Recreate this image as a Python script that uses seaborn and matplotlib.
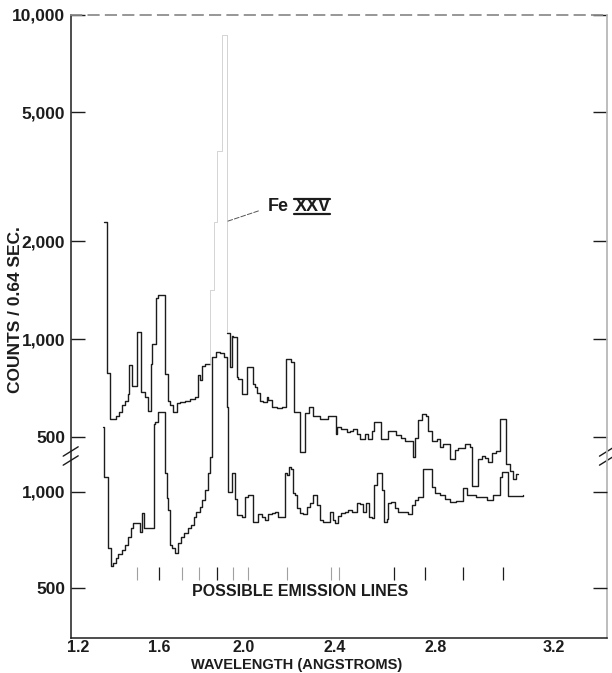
import numpy as np
import pandas as pd
import matplotlib
matplotlib.use("Agg")
import matplotlib.pyplot as plt
from matplotlib.lines import Line2D
from matplotlib.ticker import NullLocator
import seaborn as sns

# ---------------- data ----------------
upper_wl = [1.330, 1.3465, 1.359, 1.3875, 1.404, 1.4175, 1.434, 1.4505, 1.455, 1.4675,
            1.4925, 1.5125, 1.533, 1.549, 1.560, 1.568, 1.585, 1.598, 1.630, 1.643,
            1.654, 1.670, 1.686, 1.702, 1.7255, 1.749, 1.7725, 1.788, 1.796, 1.807,
            1.820, 1.844, 1.8635, 1.878, 1.901, 1.924, 1.937, 1.945, 1.952, 1.968,
            1.975, 1.991, 2.014, 2.041, 2.052, 2.059, 2.074, 2.089, 2.106, 2.1115,
            2.127, 2.149, 2.1705, 2.189, 2.195, 2.214, 2.2245, 2.251, 2.2725, 2.291,
            2.308, 2.337, 2.371, 2.386, 2.404, 2.4095, 2.428, 2.449, 2.463, 2.4765,
            2.4905, 2.504, 2.524, 2.538, 2.551, 2.561, 2.589, 2.617, 2.637, 2.650,
            2.6695, 2.682, 2.7125, 2.721, 2.734, 2.7465, 2.763, 2.771, 2.784, 2.8025,
            2.815, 2.827, 2.851, 2.869, 2.880, 2.9045, 2.922, 2.9315, 2.9505, 2.9635,
            2.975, 2.9865, 2.9995, 3.013, 3.026, 3.046, 3.059, 3.069, 3.081, 3.086]
upper_counts = [2300, 784, 567, 580, 597, 624, 646, 677, 830, 718,
                1050, 685, 662, 601, 835, 965, 1340, 1370, 780, 646,
                624, 594, 636, 640, 646, 653, 662, 777, 745, 826,
                835, 1415, 2300, 3800, 8700, 1040, 818, 1024, 1012, 762,
                753, 677, 818, 724, 712, 680, 646, 640, 662, 650,
                618, 612, 618, 867, 870, 850, 595, 449, 590, 618,
                580, 567, 577, 580, 510, 534, 526, 517, 522, 528,
                510, 492, 510, 492, 522, 556, 492, 522, 519, 505,
                495, 485, 432, 495, 562, 587, 580, 522, 485, 490,
                464, 475, 427, 455, 460, 475, 465, 352, 427, 437,
                430, 416, 444, 450, 567, 412, 391, 371, 384, 384]

lower_wl = [1.325, 1.3315, 1.3485, 1.364, 1.3755, 1.3875, 1.4005, 1.4175, 1.434, 1.4505,
            1.464, 1.4755, 1.509, 1.5175, 1.530, 1.5745, 1.583, 1.598, 1.630, 1.638,
            1.646, 1.654, 1.665, 1.678, 1.694, 1.707, 1.723, 1.739, 1.754, 1.768,
            1.780, 1.796, 1.809, 1.820, 1.833, 1.844, 1.852, 1.871, 1.891, 1.9095,
            1.923, 1.930, 1.945, 1.9605, 1.969, 1.991, 2.006, 2.022, 2.045, 2.067,
            2.082, 2.097, 2.1115, 2.127, 2.141, 2.156, 2.185, 2.193, 2.2045, 2.214,
            2.2215, 2.229, 2.239, 2.251, 2.2655, 2.283, 2.294, 2.308, 2.323, 2.337,
            2.351, 2.379, 2.3905, 2.4005, 2.414, 2.424, 2.442, 2.456, 2.4705, 2.491,
            2.504, 2.5175, 2.528, 2.5415, 2.551, 2.561, 2.572, 2.592, 2.601, 2.611,
            2.617, 2.627, 2.643, 2.656, 2.6695, 2.6955, 2.7085, 2.721, 2.734, 2.753,
            2.784, 2.796, 2.815, 2.833, 2.851, 2.875, 2.8985, 2.911, 2.9455, 2.982,
            3.0025, 3.026, 3.0315, 3.053, 3.101]
lower_counts = [1590, 1112, 667, 588, 600, 621, 640, 656, 683, 720,
                770, 798, 751, 857, 770, 1630, 1650, 1770, 1143, 955,
                880, 683, 670, 643, 691, 725, 742, 770, 788, 837,
                867, 898, 942, 1012, 1140, 1285, 2625, 2720, 2700, 2625,
                1835, 1000, 1140, 950, 846, 837, 965, 977, 807, 852,
                837, 817, 850, 857, 862, 837, 1140, 1125, 1196, 1180,
                989, 977, 888, 857, 850, 898, 920, 977, 909, 817,
                807, 867, 817, 798, 840, 857, 867, 877, 867, 920,
                915, 867, 920, 837, 828, 1049, 1140, 1012, 807, 820,
                920, 931, 888, 867, 867, 852, 909, 942, 960, 1174,
                1036, 989, 975, 947, 931, 938, 1024, 977, 960, 942,
                977, 1113, 1154, 970, 977]

strong_lines = [1.602, 1.875, 2.640, 2.759, 2.900, 3.036]
faint_lines = [1.492, 1.714, 1.794, 1.952, 2.021, 2.193, 2.384, 2.417]

x_ticks = [1.2, 1.4, 1.6, 1.8, 2.0, 2.2, 2.4, 2.6, 2.8, 3.0, 3.2]
x_ticklabels = ["1.2", "", "1.6", "", "2.0", "", "2.4", "", "2.8", "", "3.2"]
upper_yticks = [500, 1000, 2000, 5000, 10000]
upper_ylabels = ["500", "1,000", "2,000", "5,000", "10,000"]
lower_yticks = [500, 1000]
lower_ylabels = ["500", "1,000"]
peak_range = (1.844, 1.924)

# ---------------- style ----------------
sns.set_theme(style="white")
plt.rcParams["font.family"] = ["Liberation Sans", "DejaVu Sans"]
plt.rcParams["font.weight"] = "bold"
INK = "#1c1c1c"

fig = plt.figure(figsize=(6.12, 6.73), dpi=100)
ax = fig.add_axes([0.1155, 0.0525, 0.8763, 0.9253])

two_d = 3.9
fwd = lambda l: np.degrees(np.arcsin(np.clip(np.asarray(l, float) / two_d, -1, 1)))
inv = lambda t: two_d * np.sin(np.radians(np.asarray(t, float)))
ax.set_xscale("function", functions=(fwd, inv))
ax.set_yscale("log")
ax.set_xlim(1.162, 3.352)
ax.set_ylim(119.8, 10000)

ax2 = ax.twinx()
ax2.set_yscale("log")
ax2.set_ylim(351, 30550)

# split the upper trace so the fast-pen Fe XXV peak is drawn faint
uw = np.array(upper_wl); uc = np.array(upper_counts)
i0 = int(np.argmin(abs(uw - peak_range[0]))); i1 = int(np.argmin(abs(uw - peak_range[1])))
left = pd.DataFrame({"wl": list(uw[:i0]) + [uw[i0]], "c": list(uc[:i0]) + [uc[i0 - 1]]})
peak = pd.DataFrame({"wl": [uw[i0]] + list(uw[i0:i1]) + [uw[i1]],
                     "c": [uc[i0 - 1]] + list(uc[i0:i1]) + [uc[i1]]})
right = pd.DataFrame({"wl": uw[i1:], "c": uc[i1:]})
for df, col, lw in [(left, INK, 1.0), (peak, "#cdcdcd", 0.6), (right, INK, 1.0)]:
    sns.lineplot(data=df, x="wl", y="c", ax=ax, estimator=None, sort=False,
                 drawstyle="steps-post", color=col, lw=lw)

low = pd.DataFrame({"wl": lower_wl, "c": lower_counts})
sns.lineplot(data=low, x="wl", y="c", ax=ax2, estimator=None, sort=False,
             drawstyle="steps-post", color=INK, lw=1.0)

# ---------------- axes cosmetics ----------------
for a in (ax, ax2):
    a.set_xlabel(""); a.set_ylabel("")
    a.yaxis.set_minor_locator(NullLocator())
    a.xaxis.set_minor_locator(NullLocator())

ax.set_xticks(x_ticks, x_ticklabels)
ax.set_yticks(upper_yticks, upper_ylabels)
ax2.set_yticks(lower_yticks, lower_ylabels)
ax2.yaxis.tick_left()

ax.tick_params(axis="x", direction="in", length=8, width=1.0, color=INK, pad=1.5,
               labelsize=11.5, labelcolor=INK, top=False)
ax.tick_params(axis="y", direction="in", length=10, width=1.0, color=INK, pad=4,
               labelsize=12.5, labelcolor=INK, right=True)
ax2.tick_params(axis="y", direction="in", length=10, width=1.0, color=INK, pad=4,
                labelsize=12.5, labelcolor=INK, left=True, right=True,
                labelleft=True, labelright=False)

for s in ["left", "bottom"]:
    ax.spines[s].set_color(INK); ax.spines[s].set_linewidth(1.1)
ax.spines["top"].set_color("#8a8a8a"); ax.spines["top"].set_linestyle((0, (6, 4)))
ax.spines["right"].set_color("#b5b5b5")
for s in ax2.spines.values():
    s.set_visible(False)

# axis break marks
for xc in (0.0, 1.0):
    for yc in (0.2845, 0.2990):
        ax.plot([xc - 0.014, xc + 0.014], [yc - 0.0075, yc + 0.0075],
                transform=ax.transAxes, color=INK, lw=1.0, clip_on=False)

# possible emission lines
ax.vlines(strong_lines, 0.092, 0.113, transform=ax.get_xaxis_transform(), color=INK, lw=0.9)
ax.vlines(faint_lines, 0.092, 0.113, transform=ax.get_xaxis_transform(), color="#a0a0a0", lw=0.8)
ax.text(0.427, 0.074, "POSSIBLE EMISSION LINES", transform=ax.transAxes,
        ha="center", va="center", fontsize=11.5, color=INK)

# labels
fig.text(297 / 612, 1 - 665 / 673, "WAVELENGTH (ANGSTROMS)",
         ha="center", va="center", fontsize=10.5, color=INK)
fig.text(0.026, 1 - 310 / 673, "COUNTS / 0.64 SEC.", rotation=90,
         ha="center", va="center", fontsize=12.5, color=INK)

# Fe XXV annotation
fe = ax.text(2.110, 2562, "Fe", ha="left", va="center", fontsize=13, color=INK)
xxv = ax.annotate("XXV", xy=(1, 0.5), xycoords=fe, xytext=(4, 0), textcoords="offset points",
                  ha="left", va="center", fontsize=13, color=INK)
ax.annotate("", xy=(1.916, 2297), xytext=(2.079, 2500),
            arrowprops=dict(arrowstyle="-", lw=0.7, color="#555555", linestyle=(0, (5, 2))))

fig.canvas.draw()
bb = xxv.get_window_extent().transformed(fig.transFigure.inverted())
for yy in (bb.y0 + 0.002, bb.y1 - 0.002):
    fig.add_artist(Line2D([bb.x0, bb.x1], [yy, yy], transform=fig.transFigure, color=INK, lw=1.6))

fig.savefig("out.png", dpi=100)
